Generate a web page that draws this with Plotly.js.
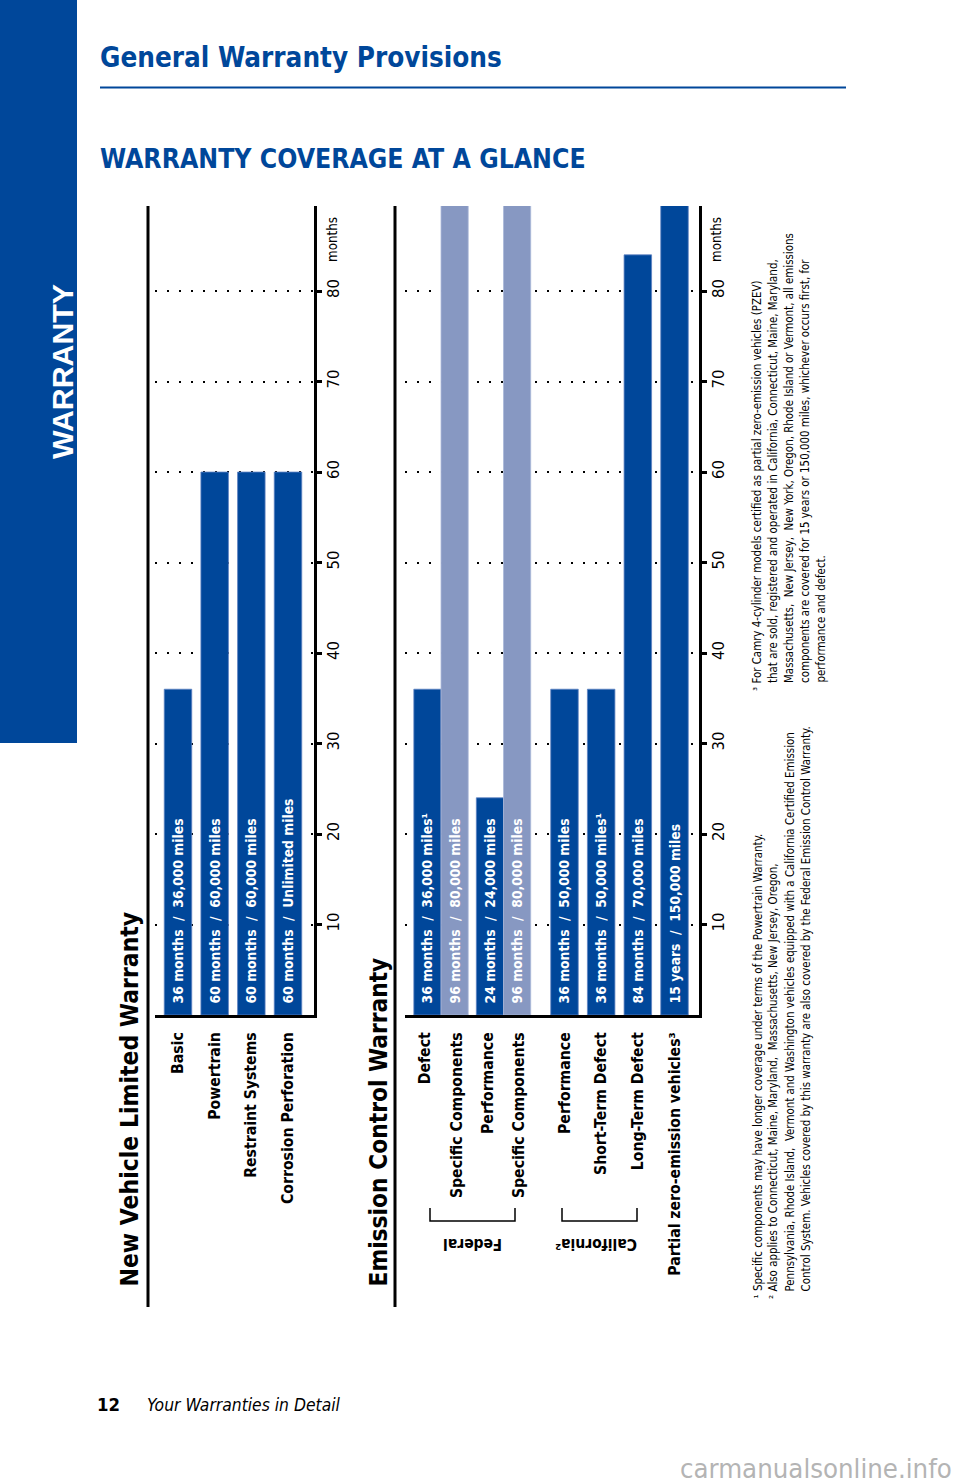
<!DOCTYPE html>
<html>
<head>
<meta charset="utf-8">
<script src="https://cdn.plot.ly/plotly-3.0.1.min.js"></script>
<style>html,body{margin:0;padding:0;background:#fff;}#chart{width:960px;height:1484px;}</style>
</head>
<body>
<div id="chart"></div>
<script>
// ---------------- DATA ----------------
const monthTicks = [10, 20, 30, 40, 50, 60, 70, 80];

// New Vehicle Limited Warranty
const nvCategories = ['Basic', 'Powertrain', 'Restraint Systems', 'Corrosion Perforation'];
const nvMonths = [36, 60, 60, 60];
const nvText = ['36 months  /  36,000 miles', '60 months  /  60,000 miles', '60 months  /  60,000 miles', '60 months  /  Unlimited miles'];

// Emission Control Warranty – Federal
const fedCategories = ['Defect', 'Defect – Specific Components', 'Performance', 'Performance – Specific Components'];
const fedLabels = ['Defect', 'Specific Components', 'Performance', 'Specific Components'];
const fedGeneralCats = ['Defect', 'Performance'];
const fedGeneralMonths = [36, 24];
const fedGeneralText = ['36 months  /  36,000 miles¹', '24 months  /  24,000 miles'];
const fedSpecificCats = ['Defect – Specific Components', 'Performance – Specific Components'];
const fedSpecificMonths = [96, 96];
const fedSpecificText = ['96 months  /  80,000 miles', '96 months  /  80,000 miles'];

// Emission Control Warranty – California & PZEV
const caCategories = ['Performance', 'Short-Term Defect', 'Long-Term Defect', 'Partial zero-emission vehicles³'];
const caMonths = [36, 36, 84, 180];
const caText = ['36 months  /  50,000 miles', '36 months  /  50,000 miles¹', '84 months  /  70,000 miles', '15 years  /  150,000 miles'];

const footnotes12 = [
  '¹ Specific components may have longer coverage under terms of the Powertrain Warranty.',
  '² Also applies to Connecticut, Maine, Maryland,  Massachusetts, New Jersey, Oregon,',
  'Pennsylvania, Rhode Island,  Vermont and Washington vehicles equipped with a California Certified Emission',
  'Control System. Vehicles covered by this warranty are also covered by the Federal Emission Control Warranty.'
];
const footnotes3 = [
  '³ For Camry 4-cylinder models certified as partial zero-emission vehicles (PZEV)',
  'that are sold, registered and operated in California, Connecticut, Maine, Maryland,',
  'Massachusetts,  New Jersey,  New York, Oregon, Rhode Island or Vermont, all emissions',
  'components are covered for 15 years or 150,000 miles, whichever occurs first, for',
  'performance and defect.'
];

// ---------------- FONTS ----------------
const ctx = document.createElement('canvas').getContext('2d');
function hasFont(name) {
  const s = 'abcdefghijklmnopqrstuvwxyz ABCDEFGHIJKLM 0123456789';
  for (const base of ['monospace', 'serif']) {
    ctx.font = '72px ' + base; const a = ctx.measureText(s).width;
    ctx.font = '72px "' + name + '", ' + base; const b = ctx.measureText(s).width;
    if (Math.abs(a - b) > 0.5) return true;
  }
  return false;
}
const narrowName = ['Liberation Sans Narrow', 'Arial Narrow', 'DejaVu Sans Condensed', 'Roboto Condensed', 'Noto Sans Condensed', 'Liberation Sans']
  .find(hasFont) || 'Liberation Sans';
const NARROW = '"' + narrowName + '", sans-serif';
const SANS = '"Liberation Sans", Arial, sans-serif';
function fit(text, target, weight, style, fam) {
  ctx.font = (style || 'normal') + ' ' + (weight || 'normal') + ' 100px ' + (fam || NARROW);
  return 100 * target / ctx.measureText(text).width;
}

// ---------------- STYLE ----------------
const W = 960, H = 1484;
const px = v => v / W;
const py = v => 1 - v / H;
const DARK = '#00479a';
const LIGHT = '#8798c2';
const nb = s => s.replace(/  /g, '\u00a0 ');

const barSize = fit(nb('60 months  /  Unlimited miles'), 205, 'bold');
const catSize = fit('Corrosion Perforation', 172, 'bold');
const tickSize = Math.min(19, fit('80', 19));
const fnSize = fit('Control System. Vehicles covered by this warranty are also covered by the Federal Emission Control Warranty.', 566);

const barText = {
  textposition: 'inside', insidetextanchor: 'start', textangle: -90, constraintext: 'none',
  texttemplate: '\u00a0\u00a0%{text}',
  textfont: {family: NARROW, size: barSize, color: '#ffffff', weight: 'bold'},
  hoverinfo: 'skip'
};

const traces = [
  Object.assign({type: 'bar', x: nvCategories, y: nvMonths, text: nvText.map(nb), xaxis: 'x', yaxis: 'y',
    marker: {color: DARK, line: {color: '#5d82c2', width: 0.8}}}, barText),
  Object.assign({type: 'bar', x: fedGeneralCats, y: fedGeneralMonths, text: fedGeneralText.map(nb), xaxis: 'x2', yaxis: 'y2',
    width: 0.87, offset: -0.37, marker: {color: DARK, line: {color: '#5d82c2', width: 0.8}}}, barText),
  Object.assign({type: 'bar', x: fedSpecificCats, y: fedSpecificMonths, text: fedSpecificText.map(nb), xaxis: 'x2', yaxis: 'y2',
    width: 0.87, offset: -0.5, marker: {color: LIGHT, line: {color: '#a9b7d8', width: 0.8}}}, barText),
  Object.assign({type: 'bar', x: caCategories, y: caMonths, text: caText.map(nb), xaxis: 'x3', yaxis: 'y2',
    marker: {color: DARK, line: {color: '#5d82c2', width: 0.8}}}, barText)
];

const yDomain = [py(1015), py(206)];
const xCommon = {
  type: 'category', showline: true, linecolor: '#000', linewidth: 3, ticks: '', tickangle: -90,
  ticklabelstandoff: 8, tickfont: {family: NARROW, size: catSize, color: '#000', weight: 'bold'},
  showgrid: false, zeroline: false, fixedrange: true
};
const yCommon = {
  side: 'right', range: [0, 89.4], tickvals: monthTicks, ticktext: monthTicks.map(String), tickangle: -90,
  showgrid: true, gridcolor: '#000', griddash: '2px,10px', gridwidth: 2,
  showline: true, linecolor: '#000', linewidth: 3, ticks: 'outside', ticklen: 5, tickwidth: 3, tickcolor: '#000',
  ticklabelstandoff: -3, tickfont: {family: NARROW, size: tickSize, color: '#000'}, zeroline: false, fixedrange: true,
  domain: yDomain
};

function ann(text, x, y, opts) {
  return Object.assign({text: text, x: px(x), y: py(y), xref: 'paper', yref: 'paper', showarrow: false,
    xanchor: 'center', yanchor: 'middle', borderpad: 0}, opts);
}
const annotations = [
  ann('General Warranty Provisions', 99, 58, {xanchor: 'left',
    font: {family: NARROW, size: fit('General Warranty Provisions', 402, 'bold'), color: DARK, weight: 'bold'}}),
  ann('WARRANTY COVERAGE AT A GLANCE', 99, 159, {xanchor: 'left',
    font: {family: NARROW, size: fit('WARRANTY COVERAGE AT A GLANCE', 486, 'bold'), color: DARK, weight: 'bold'}}),
  ann('WARRANTY', 62, 372, {textangle: -90,
    font: {family: SANS, size: fit('WARRANTY', 175, 'bold', 'normal', SANS), color: '#fff', weight: 'bold'}}),
  ann('New Vehicle Limited Warranty', 129, 1288, {yanchor: 'bottom', textangle: -90,
    font: {family: NARROW, size: fit('New Vehicle Limited Warranty', 375, 'bold'), color: '#000', weight: 'bold'}}),
  ann('Emission Control Warranty', 378, 1288, {yanchor: 'bottom', textangle: -90,
    font: {family: NARROW, size: fit('Emission Control Warranty', 329, 'bold'), color: '#000', weight: 'bold'}}),
  ann('months', 333, 240, {textangle: -90, font: {family: NARROW, size: fit('months', 45), color: '#000'}}),
  ann('months', 717, 240, {textangle: -90, font: {family: NARROW, size: fit('months', 45), color: '#000'}}),
  ann('Federal', 472.5, 1244, {textangle: 180,
    font: {family: NARROW, size: fit('Federal', 59, 'bold'), color: '#000', weight: 'bold'}}),
  ann('California²', 596, 1244, {textangle: 180,
    font: {family: NARROW, size: fit('California²', 82, 'bold'), color: '#000', weight: 'bold'}}),
  ann('12', 96, 1404, {xanchor: 'left',
    font: {family: NARROW, size: fit('12', 23, 'bold'), color: '#000', weight: 'bold'}}),
  ann('Your Warranties in Detail', 146, 1405, {xanchor: 'left',
    font: {family: NARROW, size: fit('Your Warranties in Detail', 193, 'normal', 'italic'), color: '#000', style: 'italic'}}),
  ann('carmanualsonline.info', 953, 1468, {xanchor: 'right',
    font: {family: NARROW, size: fit('carmanualsonline.info', 272), color: '#b4b4b4'}})
];
footnotes12.forEach((line, i) => {
  const start = /^[¹²³]/.test(line) ? 1300 : 1293;
  annotations.push(ann(nb(line), 757 + i * 16, start, {yanchor: 'bottom', textangle: -90,
    font: {family: NARROW, size: fnSize, color: '#000'}}));
});
footnotes3.forEach((line, i) => {
  const start = /^[¹²³]/.test(line) ? 692 : 684;
  annotations.push(ann(nb(line), 757 + i * 16, start, {yanchor: 'bottom', textangle: -90,
    font: {family: NARROW, size: fnSize, color: '#000'}}));
});

const layout = {
  width: W, height: H, margin: {l: 0, r: 0, t: 0, b: 0},
  paper_bgcolor: '#fff', plot_bgcolor: 'rgba(0,0,0,0)', showlegend: false,
  barmode: 'overlay', bargap: 0.25,
  xaxis: Object.assign({}, xCommon, {domain: [px(155), px(314)], anchor: 'y', range: [-0.627, 3.709]}),
  yaxis: Object.assign({}, yCommon, {anchor: 'x'}),
  xaxis2: Object.assign({}, xCommon, {domain: [px(405), px(534.75)], anchor: 'y2', range: [-0.653, 3.5],
    categoryorder: 'array', categoryarray: fedCategories, tickvals: fedCategories, ticktext: fedLabels}),
  xaxis3: Object.assign({}, xCommon, {domain: [px(534.75), px(699)], anchor: 'y2', range: [-0.811, 3.668]}),
  yaxis2: Object.assign({}, yCommon, {anchor: 'x3'}),
  shapes: [
    {type: 'rect', xref: 'paper', yref: 'paper', x0: 0, x1: px(77), y0: py(743), y1: 1, fillcolor: DARK, line: {width: 0}, layer: 'below'},
    {type: 'line', xref: 'paper', yref: 'paper', x0: px(100), x1: px(846), y0: py(87.5), y1: py(87.5), line: {color: DARK, width: 2}},
    {type: 'line', xref: 'paper', yref: 'paper', x0: px(148), x1: px(148), y0: py(206), y1: py(1307), line: {color: '#000', width: 3}},
    {type: 'line', xref: 'paper', yref: 'paper', x0: px(395), x1: px(395), y0: py(206), y1: py(1307), line: {color: '#000', width: 3}},
    {type: 'path', xref: 'paper', yref: 'paper',
      path: `M${px(430)},${py(1208)} L${px(430)},${py(1221)} L${px(515)},${py(1221)} L${px(515)},${py(1208)}`,
      line: {color: '#000', width: 1.5}},
    {type: 'path', xref: 'paper', yref: 'paper',
      path: `M${px(562)},${py(1208)} L${px(562)},${py(1221)} L${px(637)},${py(1221)} L${px(637)},${py(1208)}`,
      line: {color: '#000', width: 1.5}}
  ],
  annotations: annotations
};

Plotly.newPlot('chart', traces, layout, {staticPlot: true, displayModeBar: false});
</script>
</body>
</html>
